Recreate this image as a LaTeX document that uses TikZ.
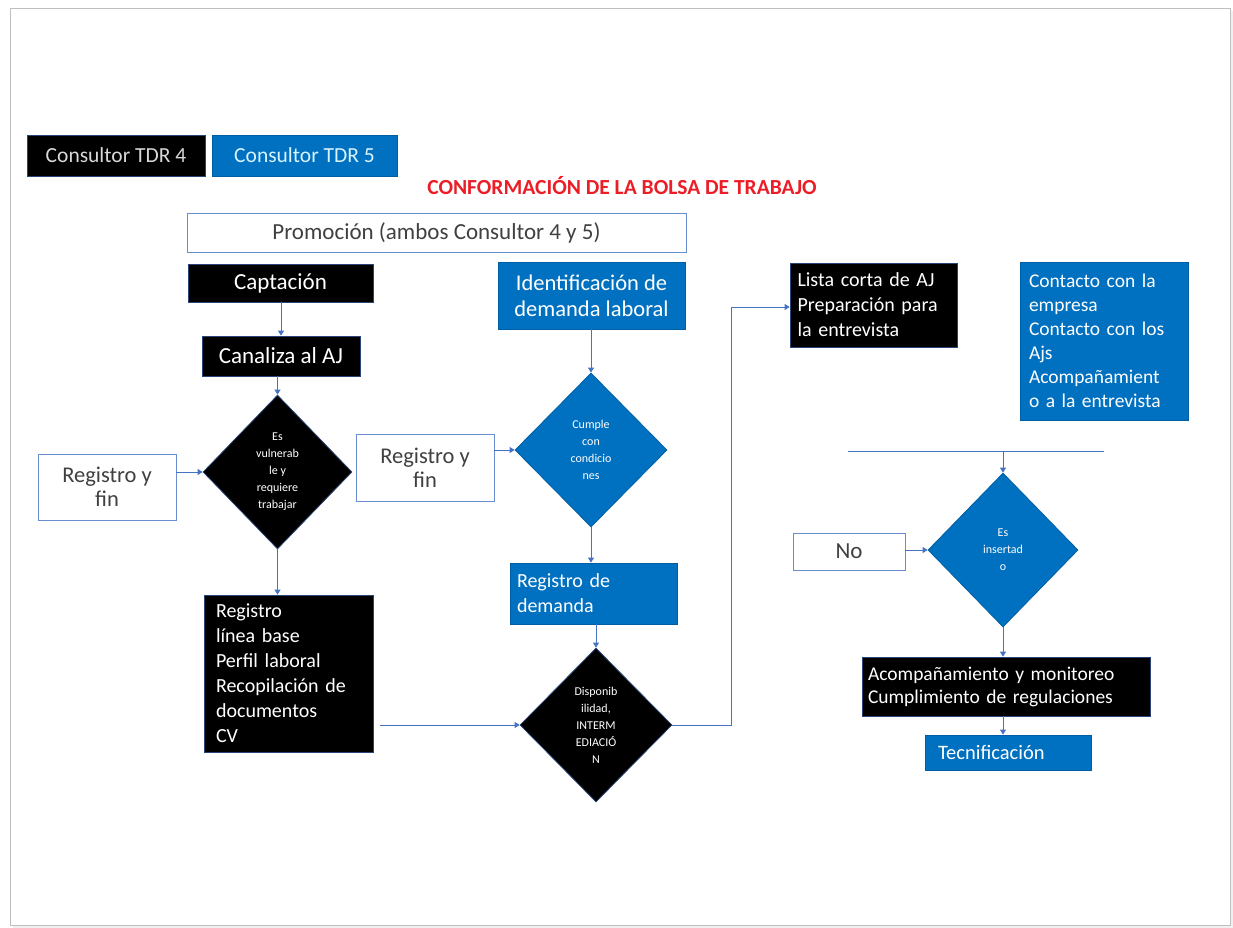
\documentclass[tikz,border=0pt]{standalone}
\usepackage{fontspec}
\setmainfont{Carlito}
\usetikzlibrary{shapes.geometric,arrows.meta}
\definecolor{cblue}{RGB}{0,112,192}
\definecolor{lblue}{RGB}{68,114,196}
\definecolor{ttred}{RGB}{235,30,40}
\begin{document}
\begin{tikzpicture}[x=1pt,y=-1pt,
  blk/.style={fill=black, draw=lblue!60!black, line width=0.8pt, text=white, inner sep=0pt},
  blu/.style={fill=cblue, draw=cblue!85!black, line width=0.8pt, text=white, inner sep=0pt},
  wbox/.style={fill=white, draw=lblue!80, line width=0.8pt, text=black!75, inner sep=0pt},
  dia/.style={diamond, inner sep=0pt, line width=1pt, align=center, font=\fontsize{12}{17}\selectfont},
  fs/.style 2 args={font=\fontsize{#1}{#2}\selectfont},
  conn/.style={draw=lblue, line width=0.9pt},
  arr/.style={conn, -{Triangle[width=6pt,length=5pt]}}]
\useasboundingbox (0,0) rectangle (1233,928);
% page frame
\fill[black!6] (13,11) rectangle (1233,928);
\draw[black!25, fill=white, line width=0.8pt] (10,8) rectangle (1230,925);

% legend
\node[blk, text=black!15, fs={21.5}{24}, minimum width=178, minimum height=41] (c4) at (116,155.5) {Consultor TDR 4};
\node[blu, text=cyan!15, fs={21.5}{24}, minimum width=185, minimum height=41] (c5) at (304.5,155.5) {Consultor TDR 5};
\node[text=ttred, font=\bfseries\fontsize{21.5}{24}\selectfont] (title) at (622,186) {CONFORMACIÓN DE LA BOLSA DE TRABAJO};

\node[wbox, fs={23}{26}, minimum width=499, minimum height=39] (prom) at (436.5,232.5) {Promoción (ambos Consultor 4 y 5)};

% left column
\node[blk, fs={23}{26}, minimum width=185, minimum height=38] (capt) at (280.5,283) {Captación};
\node[blk, fs={23}{26}, minimum width=158, minimum height=40] (cana) at (281,356) {Canaliza al AJ};
\node[dia, blk, minimum width=149, minimum height=154] (d1) at (277.5,472) {Es\\vulnerab\\le y\\requiere\\trabajar};
\node[wbox, fs={22.5}{24}, align=center, minimum width=138, minimum height=66] (rf1) at (107,487) {Registro y\\fin};
\node[blk, fs={20}{25}, minimum width=169, minimum height=157, align=left, text width=145] (reg) at (288.5,673.5)
  {Registro\\línea base\\Perfil laboral\\Recopilación de\\documentos\\CV};

% middle column
\node[blu, fs={22.5}{26}, align=center, minimum width=187, minimum height=67] (iden) at (591.5,295.5) {Identificación de\\demanda laboral};
\node[dia, blu, minimum width=152, minimum height=154] (d2) at (591,450) {Cumple\\con\\condicio\\nes};
\node[wbox, fs={22.5}{24}, align=center, minimum width=138, minimum height=67] (rf2) at (425,467.5) {Registro y\\fin};
\node[blu, fs={20}{25}, minimum width=167, minimum height=61, align=left, text width=153] (rdem) at (593.5,593.5) {Registro de\\demanda};
\node[dia, blk, minimum width=152, minimum height=154] (d3) at (596,725) {Disponib\\ilidad,\\INTERM\\EDIACIÓ\\N};

% right part
\node[blk, fs={20}{25}, minimum width=167, minimum height=84, align=left, text width=152] (lista) at (873.5,305)
  {Lista corta de AJ\\Preparación para\\la entrevista};
\node[blu, fs={19.5}{24}, minimum width=168, minimum height=158, align=left, text width=150] (cont) at (1104,341)
  {Contacto con la\\empresa\\Contacto con los\\Ajs\\Acompañamient\\o a la entrevista};
\coordinate (hl) at (848,451);
\coordinate (hr) at (1104,451);
\coordinate (hm) at (1003,451);
\node[dia, blu, minimum width=150, minimum height=154] (d4) at (1003,550) {Es\\insertad\\o};
\node[wbox, fs={23}{26}, minimum width=112, minimum height=37] (no) at (849,551.5) {No};
\node[blk, fs={19.5}{23}, minimum width=288, minimum height=59, align=left, text width=276] (acom) at (1006,686.5)
  {Acompañamiento y monitoreo\\Cumplimiento de regulaciones};
\node[blu, fs={20.5}{24}, minimum width=166, minimum height=35, align=left, text width=140] (tec) at (1008,752.5) {Tecnificación};

% connectors
\draw[arr] (capt.south -| 281,0) -- (cana.north -| 281,0);
\draw[arr] (cana.south -| d1.north) -- (d1.north);
\draw[arr] (rf1.east |- d1.west) -- (d1.west);
\draw[arr] (d1.south) -- (reg.north -| d1.south);
\draw[arr] (iden.south -| d2.north) -- (d2.north);
\draw[arr] (rf2.east |- d2.west) -- (d2.west);
\draw[arr] (d2.south) -- (rdem.north -| d2.south);
\draw[arr] (rdem.south -| d3.north) -- (d3.north);
\draw[arr] ([xshift=7pt]reg.east |- d3.west) -- (d3.west);
\draw[arr] (d3.east) -- (731,725) -- (731,307) -- (lista.west |- 0,307);
\draw[conn] (hl) -- (hr);
\draw[arr] (hm) -- (d4.north);
\draw[arr] (no.east |- d4.west) -- (d4.west);
\draw[arr] (d4.south) -- (acom.north -| d4.south);
\draw[arr] (acom.south -| d4.south) -- (tec.north -| d4.south);
\end{tikzpicture}
\end{document}
